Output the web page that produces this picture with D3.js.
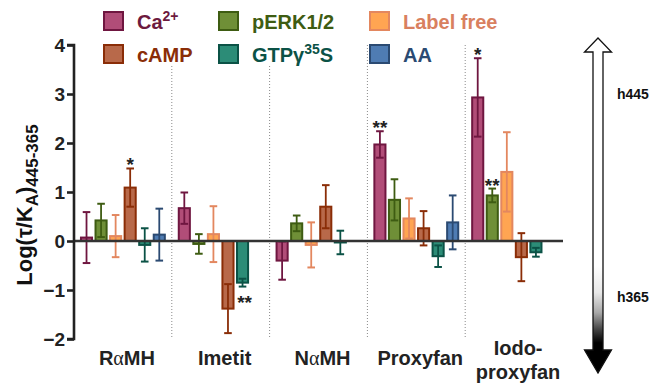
<!DOCTYPE html>
<html>
<head>
<meta charset="utf-8">
<script src="https://cdn.jsdelivr.net/npm/d3@7"></script>
<style>
  html, body { margin: 0; padding: 0; background: #fff; }
  svg { display: block; font-family: "Liberation Sans", Arial, sans-serif; }
</style>
</head>
<body>
<svg id="chart" width="653" height="387"></svg>
<script>
// ---------- data ----------
const groups = ["RαMH", "Imetit", "NαMH", "Proxyfan", "Iodo-proxyfan"];
const seriesNames = ["Ca2+", "pERK1/2", "Label free", "cAMP", "GTPγ35S", "AA"];

const caVals   = [0.07, 0.67, -0.40, 1.97, 2.93];
const caErr    = [0.52, 0.32, 0.39, 0.27, 0.80];
const perkVals = [0.42, -0.06, 0.36, 0.84, 0.93];
const perkErr  = [0.34, 0.20, 0.16, 0.42, 0.14];
const lfVals   = [0.10, 0.14, -0.08, 0.46, 1.41];
const lfErr    = [0.43, 0.57, 0.46, 0.41, 0.81];
const campVals = [1.09, -1.38, 0.70, 0.26, -0.33];
const campErr  = [0.39, 0.50, 0.44, 0.35, 0.49];
const gtpVals  = [-0.08, -0.85, -0.03, -0.31, -0.23];
const gtpErr   = [0.34, 0.08, 0.24, 0.22, 0.09];
const aaVals   = [0.13, null, null, 0.38, null];
const aaErr    = [0.53, null, null, 0.55, null];

const yTicks = [-2, -1, 0, 1, 2, 3, 4];

const significance = [
  { group: "RαMH", series: "cAMP", label: "*", pos: "above" },
  { group: "Imetit", series: "GTPγ35S", label: "**", pos: "below" },
  { group: "Proxyfan", series: "Ca2+", label: "**", pos: "above" },
  { group: "Iodo-proxyfan", series: "Ca2+", label: "*", pos: "above" },
  { group: "Iodo-proxyfan", series: "pERK1/2", label: "**", pos: "above" }
];

// ---------- styles ----------
const styles = {
  "Ca2+":       { fill: "#b14d78", stroke: "#6f1640", text: "#6d1a3e" },
  "pERK1/2":    { fill: "#6f8f37", stroke: "#3e5c12", text: "#3e5c12" },
  "Label free": { fill: "#ffa552", stroke: "#e3875f", text: "#d9805f" },
  "cAMP":       { fill: "#b8694a", stroke: "#8a2d07", text: "#8a2d07" },
  "GTPγ35S":    { fill: "#2c8c77", stroke: "#0b5246", text: "#0b5246" },
  "AA":         { fill: "#4f7cb3", stroke: "#2b4a72", text: "#2b4a72" }
};

const seriesData = [
  { name: "Ca2+", vals: caVals, errs: caErr },
  { name: "pERK1/2", vals: perkVals, errs: perkErr },
  { name: "Label free", vals: lfVals, errs: lfErr },
  { name: "cAMP", vals: campVals, errs: campErr },
  { name: "GTPγ35S", vals: gtpVals, errs: gtpErr },
  { name: "AA", vals: aaVals, errs: aaErr }
];

const rows = [];
seriesData.forEach(s => {
  groups.forEach((g, i) => {
    if (s.vals[i] !== null) rows.push({ group: g, series: s.name, v: s.vals[i], e: s.errs[i] });
  });
});

// ---------- scales ----------
const svg = d3.select("#chart");
const x0 = d3.scaleBand().domain(groups).range([74, 563]).paddingInner(0).paddingOuter(0);
const x1 = d3.scaleBand().domain(seriesNames).range([0, x0.bandwidth()]).paddingInner(0.1).paddingOuter(0.41);
const y = d3.scaleLinear().domain([-2, 4]).range([339, 45]);

// ---------- separators ----------
svg.append("g").selectAll("line")
  .data(groups.slice(1))
  .join("line")
  .attr("x1", d => x0(d)).attr("x2", d => x0(d))
  .attr("y1", y(4)).attr("y2", y(-2))
  .attr("stroke", "#8a8a8a").attr("stroke-width", 1)
  .attr("stroke-dasharray", "1,2");

// ---------- legend (drawn before bars, with white backing to hide separators) ----------
const legendItems = [
  { name: "Ca2+", col: 0, row: 0, main: "Ca", sup: "2+" },
  { name: "cAMP", col: 0, row: 1, main: "cAMP" },
  { name: "pERK1/2", col: 1, row: 0, main: "pERK1/2" },
  { name: "GTPγ35S", col: 1, row: 1, main: "GTPγ", sup: "35", after: "S" },
  { name: "Label free", col: 2, row: 0, main: "Label free" },
  { name: "AA", col: 2, row: 1, main: "AA" }
];
const colX = [103, 218, 369];
const rowY = [11, 44];
const lg = svg.append("g");
legendItems.forEach(it => {
  const st = styles[it.name];
  const bx = colX[it.col], by = rowY[it.row];
  const bg = lg.append("rect").attr("fill", "#fff");
  lg.append("rect").attr("x", bx + 1).attr("y", by + 1).attr("width", 19).attr("height", 18)
    .attr("fill", st.fill).attr("stroke", st.stroke).attr("stroke-width", 2);
  const t = lg.append("text").attr("x", bx + 34).attr("y", by + 18)
    .attr("font-size", 20).attr("font-weight", "bold").attr("fill", st.text);
  t.append("tspan").text(it.main);
  if (it.sup) t.append("tspan").attr("font-size", 14).attr("dy", -8).text(it.sup);
  if (it.after) t.append("tspan").attr("dy", 8).text(it.after);
  const bb = t.node().getBBox();
  bg.attr("x", bx - 1).attr("y", by - 2).attr("width", bb.x + bb.width - bx + 3).attr("height", 24);
});

// ---------- bars ----------
const barG = svg.append("g");
barG.selectAll("rect")
  .data(rows)
  .join("rect")
  .attr("x", d => x0(d.group) + x1(d.series) + 1)
  .attr("width", x1.bandwidth() - 2)
  .attr("y", d => Math.min(y(d.v), y(0)))
  .attr("height", d => Math.abs(y(d.v) - y(0)))
  .attr("fill", d => styles[d.series].fill)
  .attr("stroke", d => styles[d.series].stroke)
  .attr("stroke-width", 2);

// ---------- error bars ----------
const errG = svg.append("g");
rows.forEach(d => {
  const cx = x0(d.group) + x1(d.series) + x1.bandwidth() / 2;
  const col = styles[d.series].stroke;
  const yt = y(d.v + d.e), yb = y(d.v - d.e);
  errG.append("line").attr("x1", cx).attr("x2", cx).attr("y1", yt).attr("y2", yb)
    .attr("stroke", col).attr("stroke-width", 1.8);
  [yt, yb].forEach(yy => {
    errG.append("line").attr("x1", cx - 3.8).attr("x2", cx + 3.8).attr("y1", yy).attr("y2", yy)
      .attr("stroke", col).attr("stroke-width", 2);
  });
});

// ---------- zero line ----------
svg.append("line")
  .attr("x1", x0.range()[0]).attr("x2", x0.range()[1])
  .attr("y1", y(0)).attr("y2", y(0))
  .attr("stroke", "#333").attr("stroke-width", 2.6);

// ---------- y axis ----------
const yAxis = d3.axisLeft(y).tickValues(yTicks).tickSize(7).tickPadding(2).tickFormat(d3.format("d"));
const ya = svg.append("g").attr("transform", "translate(74,0)").call(yAxis);
ya.select(".domain").attr("stroke", "#222").attr("stroke-width", 2.6).attr("d", `M-7,${y(4)}H0V${y(-2)}H-7`);
ya.selectAll(".tick line").attr("stroke", "#222").attr("stroke-width", 2.6);
ya.selectAll(".tick text").attr("fill", "#222").attr("font-size", 19).attr("font-weight", "bold")
  .attr("font-family", "'Liberation Sans', Arial, sans-serif");

// y title
const yt = svg.append("text")
  .attr("transform", "translate(32,205) rotate(-90)")
  .attr("text-anchor", "middle")
  .attr("fill", "#111")
  .attr("font-weight", "bold")
  .attr("font-size", 22);
yt.append("tspan").text("Log(τ/K");
yt.append("tspan").attr("font-size", 17).attr("dy", 6).text("A");
yt.append("tspan").attr("dy", -6).text(")");
yt.append("tspan").attr("font-size", 17).attr("dy", 6).text("445-365");

// ---------- x labels ----------
const xl = svg.append("g");
groups.forEach(g => {
  const cx = x0(g) + x0.bandwidth() / 2 + 4;
  const t = xl.append("text").attr("x", cx).attr("text-anchor", "middle")
    .attr("font-size", 20).attr("font-weight", "bold").attr("fill", "#222");
  if (g === "Iodo-proxyfan") {
    t.attr("y", 355);
    t.append("tspan").attr("x", cx).text("Iodo-");
    t.append("tspan").attr("x", cx).attr("dy", 24).text("proxyfan");
  } else {
    t.attr("y", 365);
    const idx = g.indexOf("α");
    if (idx >= 0) {
      t.append("tspan").text(g.slice(0, idx));
      t.append("tspan").attr("font-family", "'Liberation Serif', 'DejaVu Serif', serif").attr("font-weight", "normal").text("α");
      t.append("tspan").text(g.slice(idx + 1));
    } else {
      t.text(g);
    }
  }
});

// ---------- significance ----------
significance.forEach(s => {
  const r = rows.find(d => d.group === s.group && d.series === s.series);
  const cx = x0(r.group) + x1(r.series) + x1.bandwidth() / 2;
  const yy = s.pos === "above" ? y(r.v + r.e) + 3 : y(r.v - r.e) + 22;
  svg.append("text").attr("x", cx + (s.pos === "below" ? 2 : 0)).attr("y", yy)
    .attr("text-anchor", "middle").attr("font-size", 19).attr("font-weight", "bold")
    .attr("fill", "#222").text(s.label);
});

// ---------- right arrow ----------
const defs = svg.append("defs");
const grad = defs.append("linearGradient").attr("id", "ag").attr("x1", 0).attr("x2", 0).attr("y1", 0).attr("y2", 1);
[[0, "#fff"], [0.68, "#fff"], [0.76, "#e8e8e8"], [0.82, "#a8a8a8"], [0.87, "#444"], [0.91, "#000"], [1, "#000"]]
  .forEach(([o, c]) => grad.append("stop").attr("offset", o).attr("stop-color", c));
const ax = 598, aTop = 38, aHB1 = 52, aHB2 = 350, aBot = 373, hw = 13.5, sw = 5;
const ap = d3.path();
ap.moveTo(ax, aTop);
ap.lineTo(ax + hw, aHB1); ap.lineTo(ax + sw, aHB1); ap.lineTo(ax + sw, aHB2);
ap.lineTo(ax + hw, aHB2); ap.lineTo(ax, aBot); ap.lineTo(ax - hw, aHB2);
ap.lineTo(ax - sw, aHB2); ap.lineTo(ax - sw, aHB1); ap.lineTo(ax - hw, aHB1); ap.closePath();
svg.append("path").attr("d", ap.toString()).attr("fill", "url(#ag)")
  .attr("stroke", "#111").attr("stroke-width", 1.3);

svg.append("text").attr("x", 617).attr("y", 99).attr("font-size", 14).attr("font-weight", "bold").attr("fill", "#111").text("h445");
svg.append("text").attr("x", 617).attr("y", 302).attr("font-size", 14).attr("font-weight", "bold").attr("fill", "#111").text("h365");
</script>
</body>
</html>
